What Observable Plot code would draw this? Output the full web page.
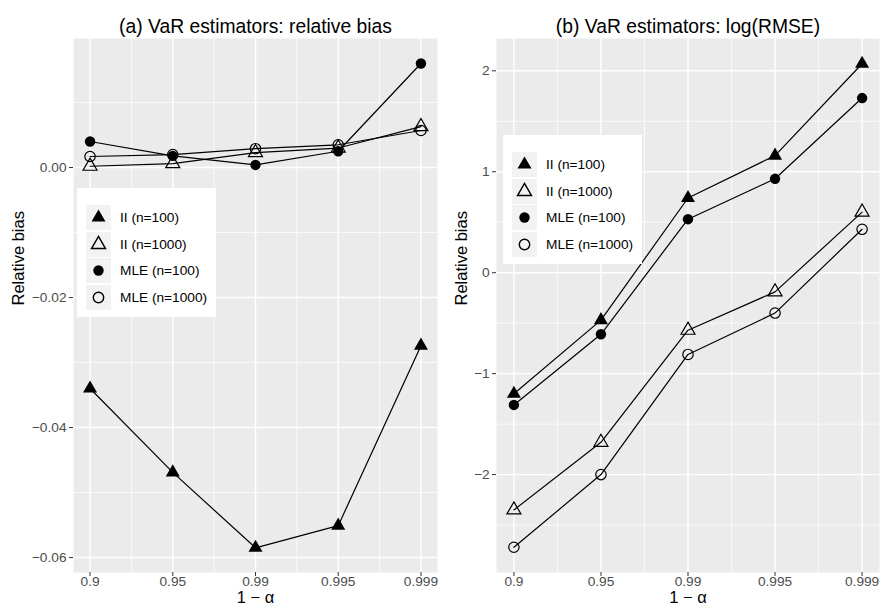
<!DOCTYPE html>
<html><head><meta charset="utf-8">
<script src="https://cdn.jsdelivr.net/npm/d3@7"></script>
<script src="https://cdn.jsdelivr.net/npm/@observablehq/plot@0.6"></script>
<style>
body{margin:0;background:#fff;font-family:"Liberation Sans",Arial,Helvetica,sans-serif;}
#wrap{position:relative;width:882px;height:612px;display:flex;}
#wrap svg{display:block;}
.legend{position:absolute;background:#fff;box-sizing:border-box;padding:17px 0 0 9px;}
.row{display:flex;align-items:center;height:25px;margin-bottom:1.5px;}
.key{width:25px;height:25px;background:#f2f2f2;}
.lab{margin-left:9px;font-size:13.7px;color:#000;white-space:nowrap;}
</style></head><body><div id="wrap"></div>
<script>
// categories (x axis)
const levels = ["0.9", "0.95", "0.99", "0.995", "0.999"];
const series = ["II (n=100)", "II (n=1000)", "MLE (n=100)", "MLE (n=1000)"];

// (a) relative bias
const biasII100 = [-0.0340, -0.0469, -0.0585, -0.0551, -0.0274];
const biasII1000 = [0.0002, 0.0006, 0.0023, 0.0030, 0.0063];
const biasMLE100 = [0.0040, 0.0018, 0.0004, 0.0025, 0.0160];
const biasMLE1000 = [0.0017, 0.0020, 0.0029, 0.0035, 0.0057];

// (b) log(RMSE)
const rmseII100 = [-1.20, -0.47, 0.74, 1.16, 2.07];
const rmseII1000 = [-2.35, -1.68, -0.57, -0.19, 0.60];
const rmseMLE100 = [-1.31, -0.61, 0.53, 0.93, 1.73];
const rmseMLE1000 = [-2.72, -2.00, -0.81, -0.40, 0.43];

// tick labels
const yTicksA = [0, -0.02, -0.04, -0.06];
const yTickLabelsA = ["0.00", "\u22120.02", "\u22120.04", "\u22120.06"];
const yMinorA = [0.01, -0.01, -0.03, -0.05];
const yTicksB = [-2, -1, 0, 1, 2];
const yTickLabelsB = ["\u22122", "\u22121", "0", "1", "2"];
const yMinorB = [-2.5, -1.5, -0.5, 0.5, 1.5];

const shapes = {"II (n=100)": {symbol: "triangle", fill: "black", stroke: "none"},
  "II (n=1000)": {symbol: "triangle", fill: "none", stroke: "black"},
  "MLE (n=100)": {symbol: "circle", fill: "black", stroke: "none"},
  "MLE (n=1000)": {symbol: "circle", fill: "none", stroke: "black"}};

function rows(arrs) {
  const out = [];
  series.forEach((s, k) => arrs[k].forEach((v, i) => out.push({x: i + 1, y: v, s})));
  return out;
}
const dataA = rows([biasII100, biasII1000, biasMLE100, biasMLE1000]);
const dataB = rows([rmseII100, rmseII1000, rmseMLE100, rmseMLE1000]);

const xTicks = levels.map((d, i) => i + 1);
const xMinor = xTicks.slice(0, -1).map(d => d + 0.5);

function panel({data, yDomain, yTicks, yLabels, yMinor, title, marginLeft, marginRight, ylabDx}) {
  const ymap = new Map(yTicks.map((t, i) => [t, yLabels[i]]));
  const marks = [
    Plot.frame({fill: "#ebebeb", stroke: "none"}),
    Plot.ruleX(xMinor, {stroke: "white", strokeWidth: 0.7}),
    Plot.ruleY(yMinor, {stroke: "white", strokeWidth: 0.7}),
    Plot.ruleX(xTicks, {stroke: "white", strokeWidth: 1.4}),
    Plot.ruleY(yTicks, {stroke: "white", strokeWidth: 1.4}),
    Plot.axisX(xTicks, {tickFormat: () => "", tickSize: 4, stroke: "#333333", label: null}),
    Plot.axisY(yTicks, {tickFormat: () => "", tickSize: 4, stroke: "#333333", label: null}),
    Plot.text(xTicks, {x: d => d, text: d => levels[d - 1], frameAnchor: "bottom", dy: 13, fontSize: 13.7, fill: "#4d4d4d"}),
    Plot.text(yTicks, {y: d => d, text: d => ymap.get(d), frameAnchor: "left", dx: -7, textAnchor: "end", fontSize: 13.7, fill: "#4d4d4d"}),
    Plot.line(data, {x: "x", y: "y", z: "s", stroke: "black", strokeWidth: 1.2})
  ];
  series.forEach(s => {
    const sh = shapes[s];
    marks.push(Plot.dot(data.filter(d => d.s === s), {x: "x", y: "y", r: 5.2, symbol: sh.symbol, fill: sh.fill, stroke: sh.stroke, strokeWidth: 1.2}));
  });
  marks.push(
    Plot.text([title], {frameAnchor: "top", dy: -19, fontSize: 19.3, fill: "black"}),
    Plot.text(["1 \u2212 \u03b1"], {frameAnchor: "bottom", dy: 30.5, fontSize: 16.5, fill: "black"}),
    Plot.text(["Relative bias"], {frameAnchor: "left", dx: ylabDx, rotate: -90, fontSize: 16.5, fill: "black"})
  );
  return Plot.plot({
    width: 441, height: 612, marginLeft, marginRight, marginTop: 38, marginBottom: 40,
    style: {fontFamily: "'Liberation Sans', Arial, sans-serif", background: "white"},
    x: {domain: [0.8, 5.2]},
    y: {domain: yDomain},
    marks
  });
}

const wrap = document.getElementById("wrap");
wrap.appendChild(panel({data: dataA, yDomain: [-0.0623, 0.01985], yTicks: yTicksA, yLabels: yTickLabelsA, yMinor: yMinorA,
  title: "(a) VaR estimators: relative bias", marginLeft: 73, marginRight: 4, ylabDx: -54.5}));
wrap.appendChild(panel({data: dataB, yDomain: [-2.97, 2.32], yTicks: yTicksB, yLabels: yTickLabelsB, yMinor: yMinorB,
  title: "(b) VaR estimators: log(RMSE)", marginLeft: 55, marginRight: 3, ylabDx: -35}));

function legend(left, top) {
  const div = document.createElement("div");
  div.className = "legend";
  div.style.left = left + "px"; div.style.top = top + "px";
  div.style.width = "139px"; div.style.height = "129px";
  series.forEach(s => {
    const sh = shapes[s];
    const row = document.createElement("div"); row.className = "row";
    const key = document.createElement("div"); key.className = "key";
    const path = d3.symbol(sh.symbol === "triangle" ? d3.symbolTriangle : d3.symbolCircle, Math.PI * 27)();
    key.innerHTML = `<svg width="25" height="25"><path transform="translate(12.5,12.5)" d="${path}" fill="${sh.fill}" stroke="${sh.stroke}" stroke-width="1.4"></path></svg>`;
    const lab = document.createElement("div"); lab.className = "lab"; lab.textContent = s;
    row.appendChild(key); row.appendChild(lab); div.appendChild(row);
  });
  wrap.appendChild(div);
}
legend(77, 188);
legend(503, 135);
</script></body></html>
